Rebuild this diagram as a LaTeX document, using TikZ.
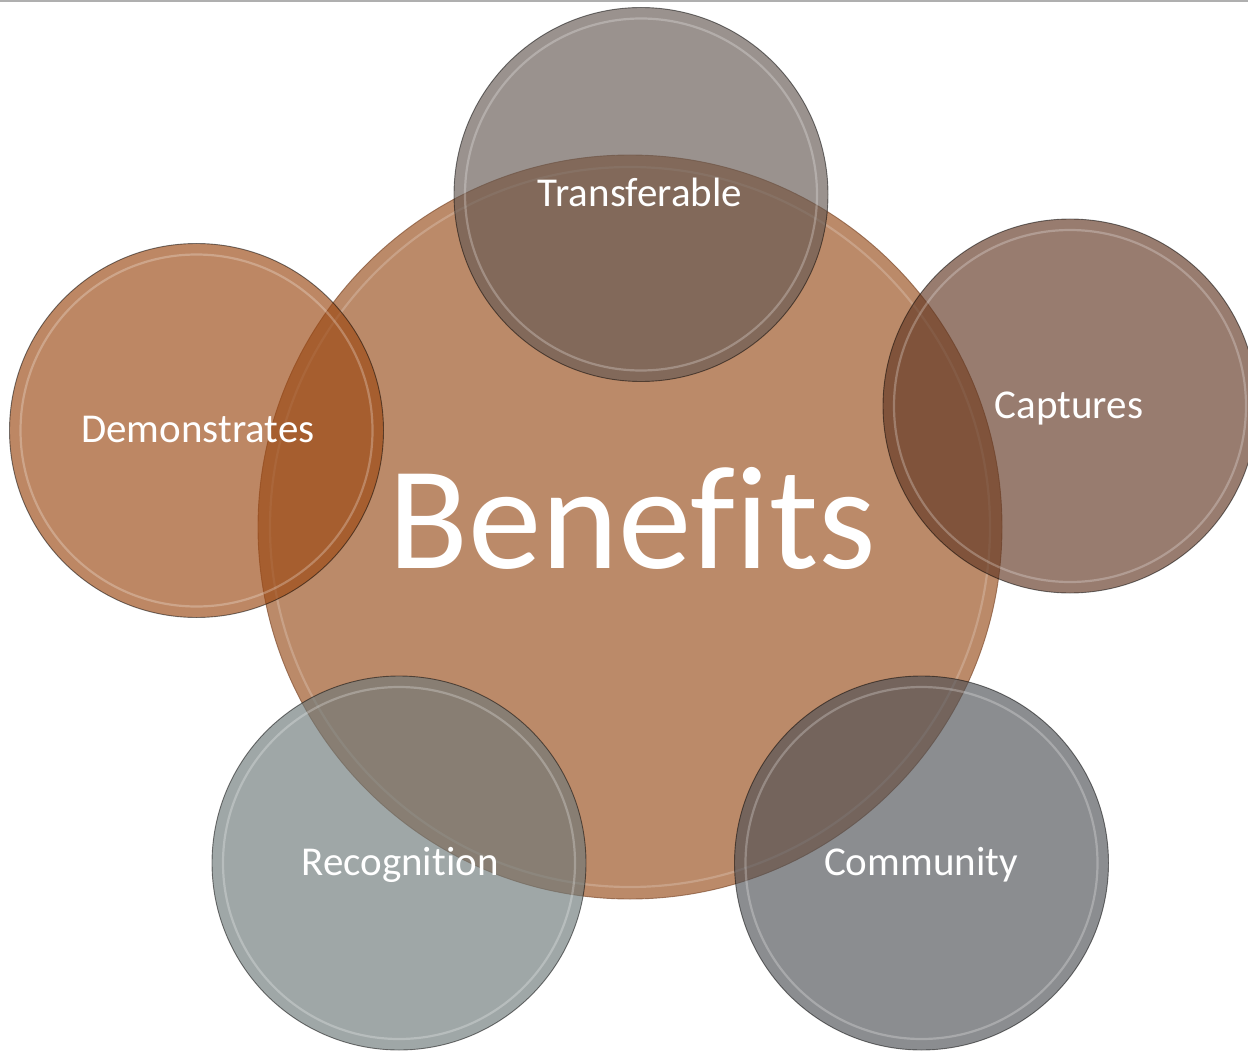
\documentclass[tikz,border=0pt]{standalone}
\usepackage{fontspec}
\setmainfont[Ligatures=NoCommon]{Carlito}
\definecolor{cBen}{RGB}{187,138,105}
\definecolor{cBenEdge}{RGB}{130,80,50}
\definecolor{cTra}{RGB}{100,88,82}
\definecolor{cCap}{RGB}{97,55,35}
\definecolor{cCom}{RGB}{78,81,86}
\definecolor{cRec}{RGB}{109,121,121}
\definecolor{cDem}{RGB}{155,71,17}
\definecolor{topline}{RGB}{175,175,175}
\tikzset{
  bubble/.style={circle, inner sep=0pt, minimum size=374pt, fill opacity=0.65, text opacity=1},
  rim/.style={draw=black, draw opacity=0.5, line width=0.9pt},
  gloss/.style={draw=white, draw opacity=0.25, line width=2.2pt},
  lbl/.style={anchor=base, text=white, font=\fontsize{41}{49}\selectfont, inner sep=0pt},
}
\newcommand\drawbubble[4]{%
  \node[bubble, fill=#4] (#1) at (#2,#3) {};
  \draw[rim] (#2,#3) circle[radius=187pt];
  \draw[gloss] (#2,#3) circle[radius=176pt];
}
\begin{document}
\begin{tikzpicture}[x=1pt,y=-1pt]
\useasboundingbox (0,0) rectangle (1248,1051);
\fill[white] (0,0) rectangle (1248,1051);
\draw[topline, line width=2pt] (0,1) -- (1248,1);

% central circle
\node[circle, inner sep=0pt, minimum size=744pt, fill=cBen] (ben) at (630,527) {};
\draw[cBenEdge, draw opacity=0.7, line width=0.9pt] (ben.center) circle[radius=372pt];
\draw[gloss, draw opacity=0.2] (ben.center) circle[radius=360pt];

% satellites
\drawbubble{tra}{641}{194.5}{cTra}
\drawbubble{cap}{1070}{406}{cCap}
\drawbubble{com}{921.5}{863}{cCom}
\drawbubble{rec}{399}{863}{cRec}
\drawbubble{dem}{196.5}{430.5}{cDem}

% labels
\node[anchor=base, text=white, inner sep=0pt, font=\fontsize{147}{170}\selectfont] (bent) at (632,568) {Benefits};
\node[lbl] (trat) at (640,207) {Transferable};
\node[lbl] (capt) at (1069,418) {Captures};
\node[lbl] (comt) at (921,875) {Community};
\node[lbl] (rect) at (400,875) {Recognition};
\node[lbl] (demt) at (198,442) {Demonstrates};
\end{tikzpicture}
\end{document}
